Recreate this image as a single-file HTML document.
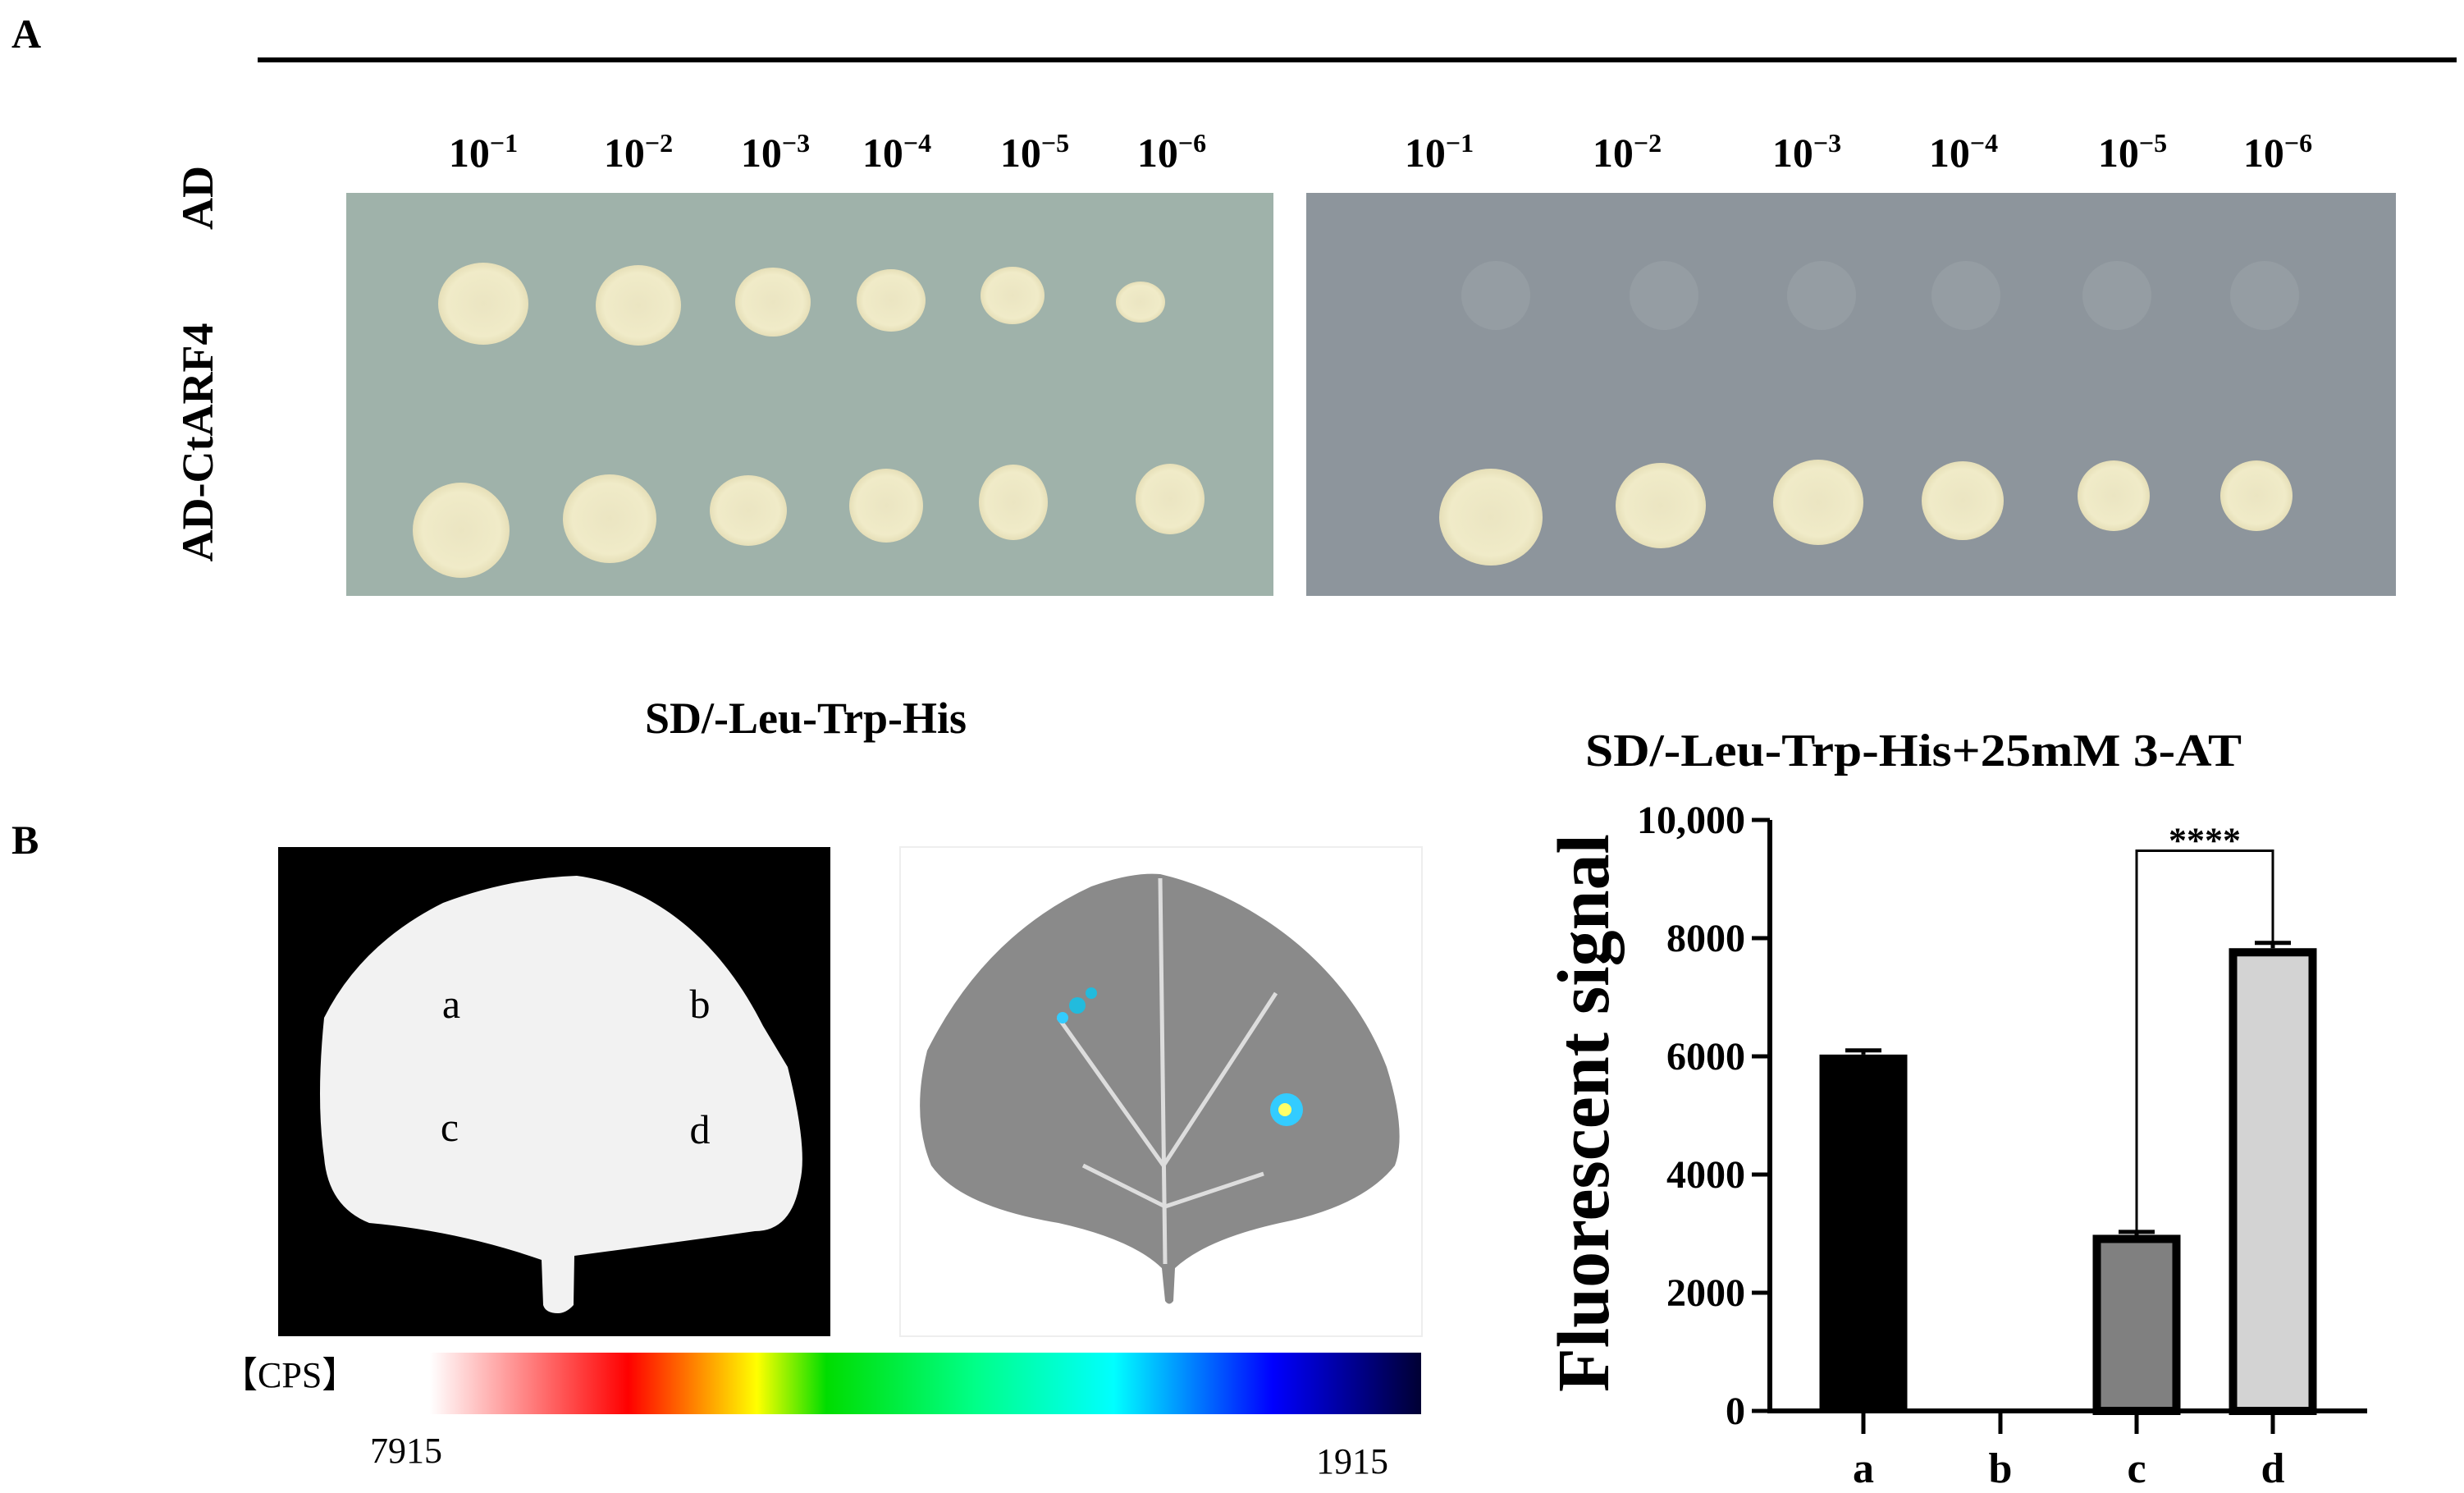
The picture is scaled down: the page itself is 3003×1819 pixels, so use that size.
<!DOCTYPE html>
<html><head><meta charset="utf-8"><style>
html,body{margin:0;padding:0;background:#fff;overflow:hidden}
svg{display:block}
text{font-family:"Liberation Serif",serif;font-weight:bold;fill:#000}
</style></head><body>
<svg id="fig" width="3003" height="1819" viewBox="0 0 3003 1819" xmlns="http://www.w3.org/2000/svg">
<defs>
<linearGradient id="cps" x1="0" x2="1" y1="0" y2="0">
<stop offset="0" stop-color="#fff"/><stop offset="0.2" stop-color="#f00"/><stop offset="0.33" stop-color="#ff0"/><stop offset="0.4" stop-color="#0d0"/><stop offset="0.55" stop-color="#0f8"/><stop offset="0.69" stop-color="#0ff"/><stop offset="0.85" stop-color="#00f"/><stop offset="1" stop-color="#000033"/>
</linearGradient>
<radialGradient id="col" cx="0.5" cy="0.5" r="0.5"><stop offset="0" stop-color="#ebe5c2"/><stop offset="0.8" stop-color="#f0ebc8"/><stop offset="1" stop-color="#e6dfb8"/></radialGradient>
</defs>
<text x="14" y="58" font-size="50">A</text>
<rect x="314" y="70" width="2680" height="6" fill="#000"/>
<g>
<text transform="translate(259,241) rotate(-90)" text-anchor="middle" font-size="54">AD</text>
<text transform="translate(259,539) rotate(-90)" text-anchor="middle" font-size="54">AD-CtARF4</text>
</g>
<rect x="422" y="235" width="1130" height="491" fill="#9fb2aa"/>
<rect x="1592" y="235" width="1328" height="491" fill="#8d959c"/>
<g id="dil"></g>
<g id="cols"></g>
<text x="982" y="893" text-anchor="middle" font-size="54">SD/-Leu-Trp-His</text>
<text x="2332" y="933" text-anchor="middle" font-size="56" textLength="800" lengthAdjust="spacingAndGlyphs">SD/-Leu-Trp-His+25mM 3-AT</text>
<text x="14" y="1040" font-size="50">B</text>
<rect x="339" y="1032" width="673" height="596" fill="#000"/>
<path d="M703,1067 C800,1080 880,1150 930,1250 L960,1300 Q985,1400 975,1440 Q965,1500 920,1500 Q850,1510 700,1530 L699,1590 Q690,1600 680,1600 Q665,1600 662,1590 L660,1535 Q560,1500 450,1490 Q400,1470 395,1410 Q385,1340 395,1240 Q440,1150 540,1100 Q620,1070 703,1067 Z" fill="#f2f2f2"/>
<g font-size="50">
<text x="550" y="1240" text-anchor="middle" style="font-weight:normal">a</text>
<text x="853" y="1240" text-anchor="middle" style="font-weight:normal">b</text>
<text x="548" y="1390" text-anchor="middle" style="font-weight:normal">c</text>
<text x="853" y="1393" text-anchor="middle" style="font-weight:normal">d</text>
</g>
<rect x="1097" y="1032" width="636" height="596" fill="#fff" stroke="#eee" stroke-width="2"/>
<g>
<path d="M1414,1065 C1520,1090 1640,1170 1690,1300 Q1715,1380 1700,1420 Q1660,1470 1560,1490 Q1470,1510 1432,1545 L1430,1585 Q1425,1592 1420,1585 L1416,1545 Q1380,1510 1290,1490 Q1170,1470 1135,1420 Q1110,1360 1130,1280 Q1200,1140 1330,1080 Q1380,1062 1414,1065 Z" fill="#8a8a8a"/>
<path d="M1414,1070 L1420,1540 M1418,1420 L1290,1240 M1418,1420 L1555,1210 M1420,1470 L1320,1420 M1420,1470 L1540,1430" stroke="#ddd" stroke-width="5" fill="none"/>
<circle cx="1313" cy="1225" r="10" fill="#2bd"/><circle cx="1295" cy="1240" r="7" fill="#3cf"/><circle cx="1330" cy="1210" r="7" fill="#2bd"/>
<circle cx="1568" cy="1352" r="20" fill="#3cf"/><circle cx="1566" cy="1352" r="8" fill="#ff6"/>
</g>
<text x="270" y="1690" font-size="44" style="font-weight:normal">【CPS】</text>
<rect x="524" y="1648" width="1208" height="75" fill="url(#cps)"/>
<text x="495" y="1782" text-anchor="middle" font-size="44" style="font-weight:normal">7915</text>
<text x="1648" y="1795" text-anchor="middle" font-size="44" style="font-weight:normal">1915</text>
<g id="chart"></g>
</svg>
<script>
const categories = ["a","b","c","d"];
const values = [6030, 0, 2980, 7830];
const errors = [70, 0, 50, 90];
const yTicks = [0, 2000, 4000, 6000, 8000, 10000];
const yTickLabels = ["0","2000","4000","6000","8000","10,000"];
const fills = ["#000","#fff","#808080","#d3d3d3"];
const dilutionLabels = ["1","2","3","4","5","6"];
const NS="http://www.w3.org/2000/svg";
function mk(t,a,p){const e=document.createElementNS(NS,t);for(const k in a)e.setAttribute(k,a[k]);p.appendChild(e);return e;}
const dil=document.getElementById('dil');
const dxL=[589,778,945,1093,1261,1428], dxR=[1754,1983,2202,2393,2599,2776];
[...dxL,...dxR].forEach((x,i)=>{const t=mk('text',{x:x,y:203,'text-anchor':'middle','font-size':50},dil);


t.textContent='10';const s=mk('tspan',{dy:-18,'font-size':32},t);s.textContent='−'+dilutionLabels[i%6];});
const cols=document.getElementById('cols');
const sp=[[589,370,110,100],[778,372,104,98],[942,368,92,84],[1086,366,84,76],[1234,360,78,70],[1390,368,60,50],
[562,646,118,116],[743,632,114,108],[912,622,94,86],[1080,616,90,90],[1235,612,84,92],[1426,608,84,86],
[1817,630,126,118],[2024,616,110,104],[2216,612,110,104],[2392,610,100,96],[2576,604,88,86],[2750,604,88,86]];
sp.forEach(c=>{const e=mk('ellipse',{cx:c[0],cy:c[1],rx:c[2]/2,ry:c[3]/2,fill:'url(#col)'},cols);

});
[1823,2028,2220,2396,2580,2760].forEach(x=>{const e=mk('ellipse',{cx:x,cy:360,rx:42,ry:42,fill:'#959da3'},cols);

});
const g=document.getElementById('chart');
const X0=2157, XE=2885, Y0=1719, Y1=999;
const xs=[2271,2438,2604,2770];
const y=v=>Y0-(v/10000)*(Y0-Y1);
const bw=107;
categories.forEach((c,i)=>{
 if(values[i]>0){
  const r=mk('rect',{x:xs[i]-bw/2+(i>1?5:0),y:y(values[i])+(i>1?5:0),width:bw-(i>1?10:0),height:Y0-y(values[i])-(i>1?5:0),fill:fills[i],stroke:'#000','stroke-width':i>1?10:0},g);
  
  
  const e=mk('path',{d:`M${xs[i]},${y(values[i])} V${y(values[i]+errors[i])} M${xs[i]-22},${y(values[i]+errors[i])} H${xs[i]+22}`,stroke:'#000','stroke-width':5,fill:'none'},g);
  
  
 }
 const tk=mk('line',{x1:xs[i],x2:xs[i],y1:Y0,y2:Y0+28,stroke:'#000','stroke-width':5},g);
 
 
 const t=mk('text',{x:xs[i],y:1806,'text-anchor':'middle','font-size':52},g);t.textContent=c;
 
 
});
yTicks.forEach((v,i)=>{
 const tk=mk('line',{x1:X0-22,x2:X0,y1:y(v),y2:y(v),stroke:'#000','stroke-width':5},g);
 
 
 const t=mk('text',{x:X0-30,y:y(v)+16,'text-anchor':'end','font-size':48},g);t.textContent=yTickLabels[i];
 
 
});
const ax=mk('path',{d:`M${X0},${Y1} V${Y0} H${XE}`,stroke:'#000','stroke-width':6,fill:'none'},g);


const yt=mk('text',{transform:`translate(1960,1356) rotate(-90)`,'text-anchor':'middle','font-size':90,textLength:680,lengthAdjust:'spacingAndGlyphs'},g);yt.textContent='Fluorescent signal';


const by=y(9480);
const br=mk('path',{d:`M${xs[2]},${y(values[2]+errors[2])} V${by} H${xs[3]} V${y(values[3]+errors[3])}`,stroke:'#000','stroke-width':3,fill:'none'},g);


const st=mk('text',{x:(xs[2]+xs[3])/2,y:by+2,'text-anchor':'middle','font-size':44},g);st.textContent='****';


</script>
</body></html>
